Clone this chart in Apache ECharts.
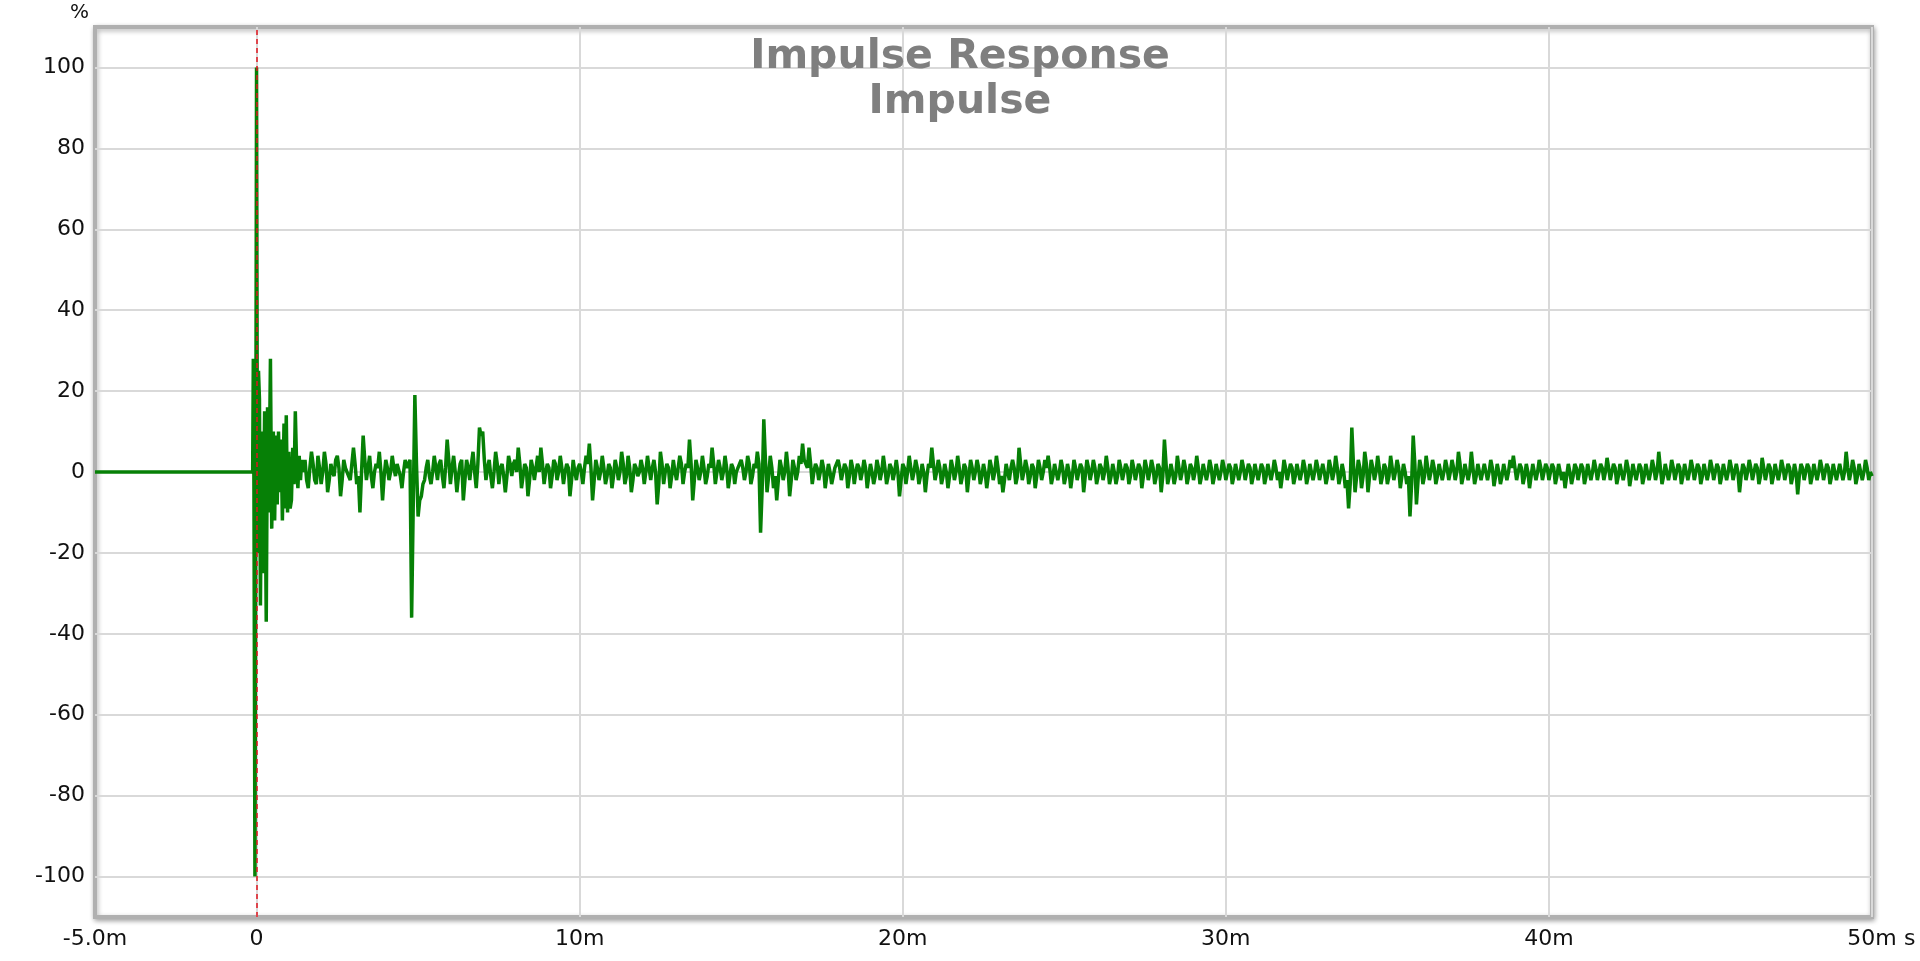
<!DOCTYPE html>
<html>
<head>
<meta charset="utf-8">
<title>Impulse Response</title>
<script src="https://cdn.jsdelivr.net/npm/echarts@6/dist/echarts.min.js"></script>
<style>
  html, body { margin: 0; padding: 0; background: #ffffff; }
  #chart { width: 1920px; height: 961px; }
</style>
</head>
<body>
<div id="chart"></div>
<script>
// ---- Data (time in ms, amplitude in %) ----
const titleLines = ['Impulse Response', 'Impulse'];
const xTickValues = [0, 10, 20, 30, 40, 50];
const xLabelValues = [-5, 0, 10, 20, 30, 40, 50];
const yTickValues = [-100, -80, -60, -40, -20, 0, 20, 40, 60, 80, 100];

// Onset of the impulse, read point by point
const onsetTimes = [-5, -0.12, -0.1, -0.08, -0.05, -0.02, 0, 0.03, 0.06, 0.09, 0.12, 0.16, 0.2, 0.25, 0.3, 0.34, 0.38, 0.43, 0.47, 0.52, 0.56, 0.6, 0.64, 0.68, 0.72, 0.76, 0.8, 0.85, 0.88, 0.92, 0.96, 1.0, 1.04, 1.08, 1.12, 1.16, 1.2, 1.24, 1.28, 1.32, 1.36, 1.4, 1.45];
const onsetValues = [0, 0, 28, -5, -100, 10, 100, -20, 25, 18, -33, 10, -25, 15, -37, 16, -10, 28, -14, 10, -12, 9, -8, 10, -5, 8, -12, 12, -9, 14, -10, 5, -9, -7, 6, -3, 15, 2, -4, 4, -2, 3, 0];

// Tail, sampled every 0.05 ms from 1.5 ms (one row per millisecond)
const tailStartMs = 1.5;
const tailStepMs = 0.05;
const tailValues = [
  3, -2, -4, 1, 5, 2, -2, -3, 4, 1,                                   // 1.5
  -3, 0, 5, 2, -5, -2, 2, 0, -1, 3, 4, 1, -6, -2, 3, 1, 1, -1, -2, 2,   // 2
  6, 2, -3, -1, -10, 0, 9, 3, -2, 1, 4, -1, -4, 0, 2, 1, 5, 0, -7, -1,  // 3
  3, 1, -2, 0, 4, 1, -1, 2, 2, -1, -4, 0, 3, 1, 1, 3, -36, -8, 19, 2,   // 4
  -11, -7, -6, -3, -2, 1, 3, -1, -3, 0, 4, 1, -2, 2, 3, -1, -4, 1, 8, 3, // 5
  -3, 1, 4, 0, -5, -1, 2, 3, -7, -2, 3, 1, -2, 2, 5, 0, -4, 2, 11, 9,   // 6
  10, 3, -2, 1, 3, -1, -4, 0, 5, 2, -3, 1, 2, -1, -5, -1, 4, 2, -1, 2,  // 7
  3, 0, 6, 2, -4, -1, 2, 1, -6, -2, 3, 1, -2, 1, 4, 0, 6, 2, -3, 0,     // 8
  2, 1, -4, -1, 3, 2, -2, 0, 4, 1, -3, 0, 2, 1, -6, -2, 3, 0, -2, 1,    // 9
  2, 0, -3, 1, 4, 2, 7, 1, -7, -2, 3, 1, -2, 0, 4, 1, -3, -1, 2, 1,     // 10
  -4, -1, 3, 1, -2, 0, 5, 2, -3, -1, 4, 1, -5, -2, 2, 1, -1, 0, 3, 1,   // 11
  -3, 0, 4, 1, -2, 1, 3, 0, -8, -3, 5, 2, -3, 0, 2, 1, -4, -1, 3, 0,    // 12
  -2, 1, 4, 2, -3, 0, 2, 1, 8, 2, -7, -2, 3, 1, -2, 0, 4, 1, -3, -1,    // 13
  2, 1, 6, 2, -3, 0, 3, 1, -2, 0, 4, 1, -4, -1, 2, 1, -3, 0, 1, 2,      // 14
  3, 1, -2, 0, 4, 2, -3, -1, 2, 1, 5, 2, -15, -4, 13, 3, -5, -1, 4, 1,  // 15
  -4, -1, -7, -2, 3, 1, -2, 0, 5, 1, -6, -2, 3, 1, -2, 0, 4, 2, 7, 3,   // 16
  3, 1, 6, 2, -3, 0, 2, 1, -2, 0, 3, 1, -4, -1, 2, 0, -3, -1, 1, 2,     // 17
  3, 1, -2, 0, 2, 1, -4, -1, 3, 1, -3, 0, 2, 1, -2, 0, 3, 1, -4, -1,    // 18
  2, 0, -3, -1, 3, 1, -2, 0, 4, 1, -3, -1, 2, 1, -2, 0, 3, 0, -6, -2,   // 19
  2, 1, -3, 0, 4, 1, -2, 0, 3, 1, -3, -1, 2, 0, -5, -1, 2, 1, 6, 2,     // 20
  -2, 0, 3, 1, -3, -1, 2, 0, -4, -1, 3, 1, -2, 0, 4, 1, -3, -1, 2, 1,   // 21
  -5, -1, 3, 1, -2, 0, 3, 1, -3, -1, 2, 0, -4, -1, 3, 1, -2, 0, 4, 1,   // 22
  -3, -1, -5, -2, 2, 0, -2, 1, 3, 1, -3, -1, 6, 2, -2, 0, 3, 1, -3, -1, // 23
  2, 1, -4, -1, 3, 1, -2, 0, 3, 1, 4, 1, -3, -1, 2, 0, -2, 0, 3, 1,     // 24
  -3, -1, 2, 0, -4, -1, 3, 1, -2, 0, 2, 1, -5, -1, 3, 1, -2, 0, 3, 1,   // 25
  -3, -1, 2, 1, -2, 0, 4, 1, -3, -1, 2, 0, -3, -1, 3, 1, -2, 0, 2, 1,   // 26
  -3, -1, 3, 1, -2, 0, 2, 1, -4, -1, 3, 1, -2, 0, 3, 1, -3, -1, 2, 1,   // 27
  -5, -1, 8, 2, -3, -1, 2, 0, -3, -1, 4, 1, -2, 0, 3, 1, -3, -1, 2, 1,  // 28
  -2, 0, 4, 1, -3, -1, 2, 0, -2, 0, 3, 1, -3, -1, 2, 0, -2, 0, 3, 1,    // 29
  -2, 0, 2, 1, -3, -1, 2, 0, -2, 0, 3, 1, -2, 0, 2, 1, -3, -1, 2, 0,    // 30
  -2, 0, 2, 1, -3, -1, 2, 0, -2, 0, 3, 1, -2, 0, -4, -1, 3, 1, -2, 0,   // 31
  2, 1, -3, -1, 2, 0, -2, 0, 3, 1, -3, -1, 2, 0, -2, 0, 3, 1, -2, 0,    // 32
  2, 0, -3, -1, 3, 1, -2, 0, 4, 1, -3, -1, 2, 0, -4, -2, -9, -3, 11, 2, // 33
  -5, -1, 3, 1, -4, -1, 5, 2, -5, -1, 3, 1, -2, 0, 4, 1, -3, -1, 2, 1,  // 34
  -3, -1, 4, 1, -2, 0, 3, 1, -4, -1, 2, 0, -3, -1, -11, -3, 9, 2, -8, -2, // 35
  3, 1, -3, -1, 4, 1, -2, 0, 3, 1, -3, -1, 2, 0, -2, 0, 3, 1, -2, 0,    // 36
  3, 1, -2, 0, 5, 2, -3, -1, 2, 0, -2, 0, 5, 1, -3, -1, 2, 0, -2, 0,    // 37
  2, 0, -2, 0, 3, 1, -3.5, -1, 2, 0, -3, -1, 2, 0, -2, 0, 3, 1, 4, 1,   // 38
  -2, 0, 2, 1, -3, -1, 2, 0, -4, -1, 2, 0, -2, 0, 3, 1, -2, 0, 2, 1,    // 39
  -2, 0, 2, 1, -3, -1, 2, 0, -2, 0, -4, -1, 2, 0, -3, -1, 2, 1, -2, 0,  // 40
  2, 1, -3, -1, 2, 0, -2, 0, 3, 1, -2, 0, 2, 1, -2, 0, 3.5, 1, -2, 0,   // 41
  2, 1, -3, -1, 2, 0, -2, 0, 3, 1, -3.5, -1, 2, 0, -2, 0, 2, 1, -3, -1, // 42
  2, 0, -2, 0, 3, 1, -2, 0, 5, 1, -3, -1, 2, 0, -2, 0, 3, 1, -2, 0,     // 43
  2, 1, -3, -1, 2, 0, -2, 0, 3, 1, -2, 0, 2, 1, -3, -1, 2, 0, -2, 0,    // 44
  3, 1, -2, 0, 2, 1, -3, -1, 2, 0, -2, 0, 3, 1, -2, 0, 2, 0, -5, -1,    // 45
  2, 1, -2, 0, 3, 1, -2, 0, 2, 1, -3, -1, 3.5, 1, -2, 0, 2, 1, -3, -1,  // 46
  2, 0, -2, 0, 3, 1, -2, 0, 2, 1, -3, -1, 2, 0, -5.5, -1, 2, 1, -2, 0,  // 47
  2, 1, -3, -1, 2, 0, -2, 0, 3, 1, -2, 0, 2, 1, -3, -1, 2, 0, -2, 0,    // 48
  2, 0, -2, 0, 5, 1, -2, 0, 3, 1, -3, -1, 2, 0, -2, 0, 3, 1, -2, 0,     // 49
  -1                                                                  // 50
];

// ---- Build series data ----
const seriesData = [];
for (let i = 0; i < onsetTimes.length; i++) seriesData.push([onsetTimes[i], onsetValues[i]]);
for (let i = 0; i < tailValues.length; i++) {
  const t = Math.round((tailStartMs + i * tailStepMs) * 1000) / 1000;
  seriesData.push([t, tailValues[i]]);
}

function xLabel(v) {
  if (v === -5) return '-5.0m';
  if (v === 0) return '0';
  return v + 'm';
}

const labelColor = '#111111';
const chart = echarts.init(document.getElementById('chart'), null, { renderer: 'canvas' });
chart.setOption({
  animation: false,
  backgroundColor: '#ffffff',
  textStyle: { fontFamily: 'DejaVu Sans' },
  title: {
    text: titleLines.join('\n'),
    left: 'center',
    top: 30,
    textStyle: {
      fontFamily: 'DejaVu Sans',
      fontWeight: 'bold',
      fontSize: 41,
      lineHeight: 45,
      color: '#7f7f7f'
    },
    z: 10
  },
  grid: {
    left: 95, right: 48, top: 27, bottom: 43,
    show: true,
    backgroundColor: '#ffffff',
    borderColor: '#b0b0b0',
    borderWidth: 4,
    shadowColor: 'rgba(0,0,0,0.3)',
    shadowBlur: 5,
    shadowOffsetX: 1,
    shadowOffsetY: 2
  },
  xAxis: {
    type: 'value',
    min: -5,
    max: 50,
    name: '\ns',
    nameLocation: 'end',
    nameGap: 32,
    nameMoveOverlap: false,
    nameTextStyle: { fontSize: 22, lineHeight: 44, color: labelColor, verticalAlign: 'middle', align: 'left' },
    axisLine: { show: false, onZero: false },
    axisTick: { show: false, customValues: xTickValues },
    axisLabel: {
      customValues: xLabelValues,
      formatter: xLabel,
      fontSize: 22,
      color: labelColor,
      margin: 11
    },
    splitLine: { show: true, lineStyle: { color: '#d9d9d9', width: 2 } }
  },
  yAxis: {
    type: 'value',
    min: -110,
    max: 110,
    name: '%',
    nameLocation: 'end',
    nameGap: 4,
    nameMoveOverlap: false,
    nameTextStyle: { fontSize: 20, color: labelColor, align: 'right', padding: [0, 6, 0, 0] },
    axisLine: { show: false, onZero: false },
    axisTick: { show: false, customValues: yTickValues },
    axisLabel: {
      customValues: yTickValues,
      fontSize: 22,
      color: labelColor,
      margin: 10
    },
    splitLine: { show: true, lineStyle: { color: '#d9d9d9', width: 2 } }
  },
  series: [{
    type: 'line',
    data: seriesData,
    showSymbol: false,
    symbol: 'none',
    lineStyle: { color: '#068006', width: 3.5 },
    z: 3,
    markLine: {
      silent: true,
      symbol: ['none', 'none'],
      label: { show: false },
      lineStyle: { color: '#e0141e', type: [5, 4], width: 1.5 },
      data: [{ xAxis: 0 }]
    }
  }]
});
</script>
</body>
</html>
